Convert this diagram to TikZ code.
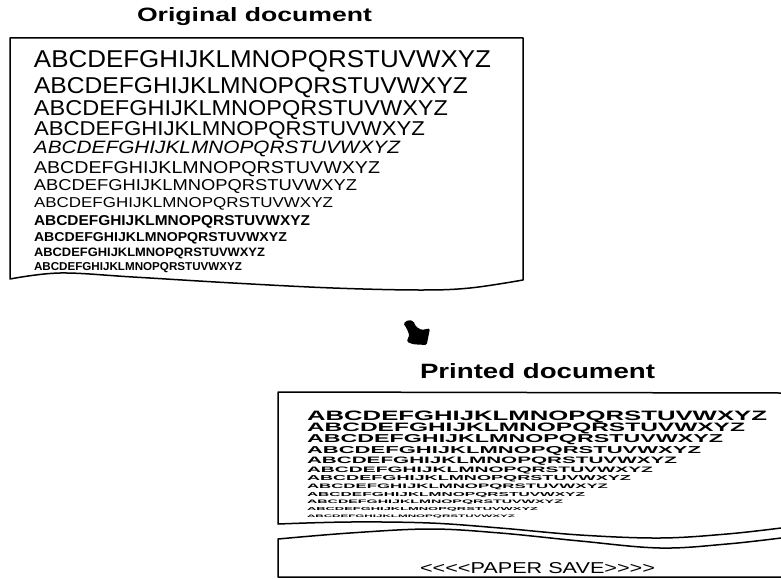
\documentclass[tikz,border=0pt]{standalone}
\usepackage{fontspec}
\setmainfont{Liberation Sans}
\newfontfamily\nolig{Liberation Sans}[Ligatures=TeXOff]
\newcommand{\alphab}{ABCDEFGHIJKLMNOPQRSTUVWXYZ}
\tikzset{
  edge/.style={line width=1.5pt, line join=round, line cap=round},
  txt/.style={anchor=base west, inner sep=0pt, outer sep=0pt},
}
\begin{document}
\begin{tikzpicture}[x=1pt,y=-1pt]
\useasboundingbox (0,0) rectangle (781,578);
% titles
\node[txt] (t1) at (137,22) {\resizebox{235pt}{14pt}{\bfseries Original document}};
\node[txt] (t2) at (420,378) {\resizebox{235pt}{15pt}{\bfseries Printed document}};
% original document box
\draw[edge] (523,280) -- (523,38) -- (10,38) -- (10,279)
  -- plot[smooth, tension=0.6] coordinates {(10,279) (60,273) (133,277) (233,283) (333,288) (420,290) (470,288) (523,280)};
% original text lines
\node[txt] (o1) at (34,67) {\resizebox{457pt}{17pt}{\alphab}};
\node[txt] (o2) at (34,93) {\resizebox{434pt}{16pt}{\alphab}};
\node[txt] (o3) at (34,115) {\resizebox{414pt}{15pt}{\alphab}};
\node[txt] (o4) at (34,135) {\resizebox{391pt}{14pt}{\alphab}};
\node[txt] (o5) at (34,153) {\resizebox{366pt}{12.5pt}{\itshape\alphab}};
\node[txt] (o6) at (34,173) {\resizebox{346pt}{12pt}{\alphab}};
\node[txt] (o7) at (34,190) {\resizebox{323pt}{11pt}{\alphab}};
\node[txt] (o8) at (34,207) {\resizebox{299pt}{10pt}{\alphab}};
\node[txt] (o9) at (34,225) {\resizebox{276pt}{10pt}{\bfseries\alphab}};
\node[txt] (o10) at (34,241) {\resizebox{253pt}{9pt}{\bfseries\alphab}};
\node[txt] (o11) at (34,256) {\resizebox{231pt}{8.5pt}{\bfseries\alphab}};
\node[txt] (o12) at (34,270) {\resizebox{208pt}{8pt}{\bfseries\alphab}};
% arrow
\fill[black, rounded corners=1.5pt] (403.3,323.3) -- (408.3,320) -- (413.3,321) -- (416,326.7) -- (421.7,330) -- (430,328.3) -- (428.3,336.7) -- (426.7,345) -- (413.3,344.3) -- (406.7,341.7) -- (409.3,335) -- (406.7,328.3) -- cycle;
% printed document upper piece
\draw[edge] (781,393) -- (278,392) -- (278,524)
  -- plot[smooth, tension=0.6] coordinates {(278,524) (350,522) (430,523) (500,528) (580,535) (660,538) (727,534) (781,528)};
% printed document lower piece
\draw[edge] plot[smooth, tension=0.6] coordinates {(781,538) (727,544) (660,548) (580,541) (500,533) (430,529) (350,533) (278,539)}
  -- (278,577) -- (781,577);
% printed text lines
\node[txt] (p1) at (307,420) {\resizebox{460pt}{9.5pt}{\bfseries\alphab}};
\node[txt] (p2) at (307,431) {\resizebox{438pt}{8.5pt}{\bfseries\alphab}};
\node[txt] (p3) at (307,442) {\resizebox{416pt}{8pt}{\bfseries\alphab}};
\node[txt] (p4) at (307,453) {\resizebox{394pt}{7pt}{\bfseries\alphab}};
\node[txt] (p5) at (307,463) {\resizebox{370pt}{6.5pt}{\bfseries\alphab}};
\node[txt] (p6) at (307,472) {\resizebox{346pt}{5.5pt}{\bfseries\alphab}};
\node[txt] (p7) at (307,480) {\resizebox{324pt}{5pt}{\bfseries\alphab}};
\node[txt] (p8) at (307,488) {\resizebox{301pt}{4.5pt}{\bfseries\alphab}};
\node[txt] (p9) at (307,496) {\resizebox{278pt}{4pt}{\bfseries\alphab}};
\node[txt] (p10) at (307,503) {\resizebox{256pt}{3.5pt}{\bfseries\alphab}};
\node[txt] (p11) at (307,510) {\resizebox{231pt}{3pt}{\bfseries\alphab}};
\node[txt] (p12) at (307,517) {\resizebox{208pt}{2.5pt}{\bfseries\alphab}};
% paper save
\node[txt] (ps) at (420,573) {\resizebox{235pt}{11pt}{\nolig <<<<PAPER SAVE>>>>}};
\end{tikzpicture}
\end{document}
